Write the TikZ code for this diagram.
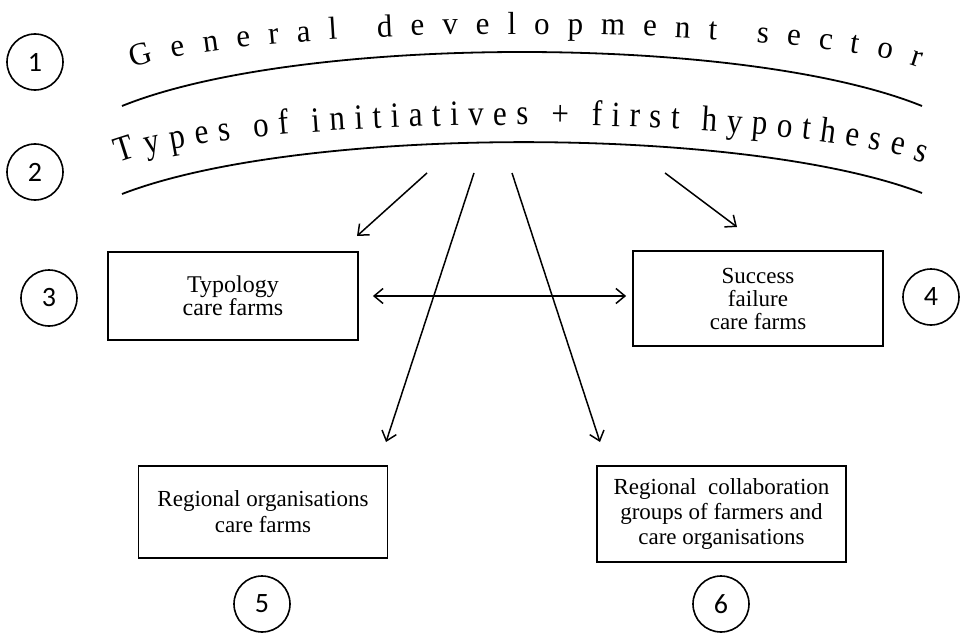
\documentclass[tikz,border=0pt]{standalone}
\usepackage{fontspec}
\setmainfont{Liberation Serif}
\newfontfamily\numfont{Carlito}
\usetikzlibrary{arrows.meta}
\begin{document}
\begin{tikzpicture}[x=1pt, y=-1pt,
  numc/.style={draw, circle, line width=1.6pt, minimum size=56pt, inner sep=0pt, font=\numfont\fontsize{28}{30}\selectfont},
  box/.style={draw, line width=1.8pt, inner sep=0pt, align=center},
  arcline/.style={line width=1.8pt},
  archletter/.style={anchor=base, inner sep=0pt, transform shape, font=\fontsize{31}{36}\selectfont},
  arr/.style={line width=1.5pt, -{Straight Barb[length=9pt,width=15pt,line width=1.5pt]}},
  arrboth/.style={line width=1.5pt, {Straight Barb[length=9pt,width=15pt,line width=1.5pt]}-{Straight Barb[length=9pt,width=15pt,line width=1.5pt]}},
]
\useasboundingbox (0,0) rectangle (967,634);

% arcs
\draw[arcline] (122,106) .. controls (300,34) and (744,34) .. (922,106);
\draw[arcline] (122,194) .. controls (300,125) and (744,125) .. (922,193);

% curved text 1 (baseline: half ellipse, centre (526,83.4), a=414.6, b=49.4)
\foreach \ch/\xx [count=\i] in {G/143.2, e/179.2, n/211.75, e/244.3, r/274.3, a/304.2, l/333.3,
  d/385.2, e/417.7, v/450.3, e/482.8, l/511.9, o/541.9, p/575.3, m/613.0, e/649.8, n/682.4, t/712.3,
  s/762.4, e/793.3, c/825.0, t/854.1, o/884.1, r/914.9}{
  \pgfmathsetmacro\uu{(\xx-526)/414.6}
  \pgfmathsetmacro\rr{sqrt(1-\uu*\uu)}
  \pgfmathsetmacro\yy{83.4-49.4*\rr}
  \pgfmathsetmacro\aa{-atan(49.4*\uu/(414.6*\rr))}
  \node[rotate=\aa, archletter, yscale=1.03] (ga\i) at (\xx,\yy) {\ch};
}

% curved text 2 (baseline: half ellipse, centre (521,181.2), a=425.5, b=56.2)
\foreach \ch/\xx [count=\i] in {T/127.5, y/154.1, p/179.0, e/203.0, s/225.3,
  o/262.0, f/284.3,
  i/316.5, n/338.0, i/359.4, t/377.4, i/395.4, a/416.0, t/436.6, i/454.6, v/476.1, e/500.1, s/522.4,
  +/560.0,
  f/596.8, i/615.6, r/634.5, s/655.0, t/674.8,
  h/709.7, y/734.6, p/759.5, o/784.4, t/805.8, h/827.3, e/851.3, s/873.6, e/896.0, s/918.3}{
  \pgfmathsetmacro\uu{(\xx-521)/425.5}
  \pgfmathsetmacro\rr{sqrt(1-\uu*\uu)}
  \pgfmathsetmacro\yy{181.2-56.2*\rr}
  \pgfmathsetmacro\aa{-atan(56.2*\uu/(425.5*\rr))}
  \node[rotate=\aa, archletter, yscale=1.15] (ty\i) at (\xx,\yy) {\ch};
}

% numbered circles
\node[numc] (c1) at (35,62) {1};
\node[numc] (c2) at (35,172) {2};
\node[numc] (c3) at (49,298) {3};
\node[numc] (c4) at (931,297) {4};
\node[numc] (c5) at (262,604) {5};
\node[numc] (c6) at (721,604) {6};

% boxes
\node[box, minimum width=250pt, minimum height=88pt, font=\fontsize{24}{23}\selectfont] (b3) at (233,296) {Typology\\care farms};
\node[box, minimum width=250pt, minimum height=95pt, font=\fontsize{23}{23}\selectfont] (b4) at (758,298.5) {Success\\failure\\care farms};
\node[box, minimum width=249pt, minimum height=92pt, font=\fontsize{23}{26}\selectfont] (b5) at (263,512) {Regional organisations\\care farms};
\node[box, minimum width=249pt, minimum height=96pt, font=\fontsize{23}{25}\selectfont] (b6) at (721.5,514) {Regional\ \ collaboration\\groups of farmers and\\care organisations};

% arrow start points below arc 2
\coordinate (s1) at (427,173);
\coordinate (s2) at (474,173);
\coordinate (s3) at (512,173);
\coordinate (s4) at (665,173);
% arrow tips
\coordinate (t3) at (357,236);
\coordinate (t5) at (386,442);
\coordinate (t6) at (600,442);
\coordinate (t4) at (737,227);

\draw[arr] (s1) -- (t3);
\draw[arr] (s2) -- (t5);
\draw[arr] (s3) -- (t6);
\draw[arr] (s4) -- (t4);
\draw[arrboth, shorten <=14pt, shorten >=6pt] (b3.east) -- (b3.east -| b4.west);
\end{tikzpicture}
\end{document}
